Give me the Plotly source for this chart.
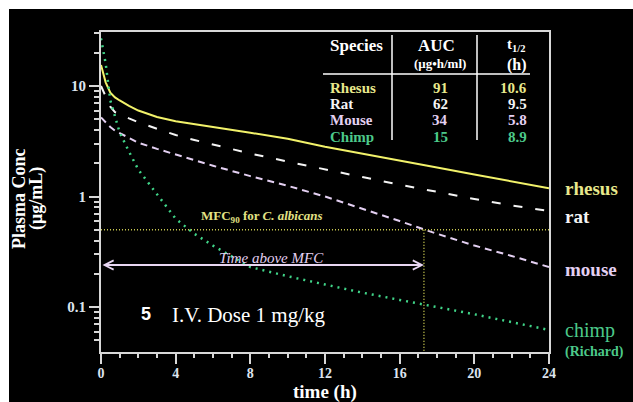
import math
import plotly.graph_objects as go

# ---------------- data ----------------
time_h = [0, 0.25, 0.5, 0.75, 1, 1.5, 2, 3, 4, 5, 6, 8, 10, 12, 14, 16, 18, 20, 22, 24]
rhesus = [15.5, 10.8, 8.7, 7.9, 7.4, 6.6, 6.0, 5.25, 4.8, 4.5, 4.25, 3.78, 3.33, 2.82, 2.45, 2.12, 1.83, 1.58, 1.37, 1.19]
rat = [10.0, 8.0, 6.5, 5.8, 5.6, 5.1, 4.7, 4.1, 3.6, 3.25, 2.95, 2.45, 2.07, 1.75, 1.5, 1.28, 1.1, 0.95, 0.83, 0.74]
mouse = [5.2, 4.7, 4.25, 3.95, 3.75, 3.35, 3.07, 2.7, 2.4, 2.13, 1.9, 1.53, 1.25, 1.0, 0.78, 0.6, 0.46, 0.36, 0.29, 0.23]
chimp = [27, 16, 7.4, 5.2, 3.8, 2.55, 1.75, 1.05, 0.63, 0.46, 0.36, 0.23, 0.19, 0.16, 0.135, 0.116, 0.1, 0.086, 0.073, 0.062]

mfc_value = 0.5
time_above_mfc = 17.3
arrow_level = 0.24

table_species = ["Rhesus", "Rat", "Mouse", "Chimp"]
table_auc = ["91", "62", "34", "15"]
table_thalf = ["10.6", "9.5", "5.8", "8.9"]

x_tickvals = [0, 4, 8, 12, 16, 20, 24]
y_tickvals = [0.1, 1, 10]
y_ticktext = ["0.1", "1", "10"]
y_minor = [0.05, 0.06, 0.07, 0.08, 0.09, 0.2, 0.3, 0.4, 0.5, 0.6, 0.7, 0.8, 0.9,
           2, 3, 4, 5, 6, 7, 8, 9, 20, 30]

# ---------------- style ----------------
C_RHESUS_LINE = "#f2f26a"
C_RHESUS_TXT = "#e8e88c"
C_RAT = "#f4f4f4"
C_MOUSE = "#e4d0f2"
C_CHIMP = "#40d488"
C_CHIMP_TXT = "#4cc98a"
C_MFC = "#c8c850"
C_AXIS = "#d8d8d8"
SERIF = "Liberation Serif"

fig = go.Figure()

fig.add_trace(go.Scatter(x=time_h, y=rhesus, mode="lines",
                         line=dict(color=C_RHESUS_LINE, width=2)))
fig.add_trace(go.Scatter(x=time_h, y=rat, mode="lines",
                         line=dict(color=C_RAT, width=2, dash="9px,13px")))
fig.add_trace(go.Scatter(x=time_h, y=mouse, mode="lines",
                         line=dict(color=C_MOUSE, width=2, dash="7px,5px")))
fig.add_trace(go.Scatter(x=time_h, y=chimp, mode="lines",
                         line=dict(color=C_CHIMP, width=2.5, dash="2px,5px")))

# MFC reference lines
fig.add_trace(go.Scatter(x=[0, 24], y=[mfc_value, mfc_value], mode="lines",
                         line=dict(color=C_MFC, width=1.5, dash="1px,2px")))
fig.add_trace(go.Scatter(x=[time_above_mfc, time_above_mfc], y=[mfc_value, 0.01], mode="lines",
                         line=dict(color=C_MFC, width=1.5, dash="1px,2px")))

W, H = 633, 402
ML, MR, MT, MB = 101, 84, 32, 50
PW, PH = W - ML - MR, H - MT - MB


def px(xp):
    return (xp - ML) / PW


def py(yp):
    return (H - MB - yp) / PH


ann = []


def text(xp, yp, s, size, color, xanchor="center", family=SERIF, bold=False, angle=0):
    ann.append(dict(x=px(xp), y=py(yp), xref="paper", yref="paper", text=s,
                    showarrow=False, xanchor=xanchor, yanchor="middle", textangle=angle,
                    font=dict(family=family, size=size, color=color,
                              weight="bold" if bold else "normal")))


# table
text(328, 45, "Species", 17, "white", xanchor="left", bold=True)
text(436, 45, "AUC", 17, "white", bold=True)
text(440, 64, "(μg•h/ml)", 13, "white", bold=True)
text(516, 45, "t<sub>1/2</sub>", 15, "white", bold=True)
text(517, 65, "(h)", 16, "white", bold=True)
row_colors = [C_RHESUS_TXT, C_RAT, C_MOUSE, C_CHIMP_TXT]
row_y = [88, 104, 120, 137]
for name, auc, th, col, yy in zip(table_species, table_auc, table_thalf, row_colors, row_y):
    text(328, yy, name, 15, col, xanchor="left", bold=True)
    text(440, yy, auc, 15, col, bold=True)
    text(529, yy, th, 15, col, xanchor="right", bold=True)

# right-side labels
text(563, 188, "rhesus", 19, C_RHESUS_TXT, xanchor="left", bold=True)
text(563, 216, "rat", 19, C_RAT, xanchor="left", bold=True)
text(563, 269, "mouse", 19, C_MOUSE, xanchor="left", bold=True)
text(563, 330, "chimp", 20, C_CHIMP_TXT, xanchor="left")
text(563, 352, "(Richard)", 14, C_CHIMP_TXT, xanchor="left", bold=True)

# in-plot texts
text(262, 216, "MFC<sub>90</sub> for <i>C. albicans</i>", 13, "#e2e284", bold=True)
text(271, 258, "<i>Time above MFC</i>", 15, C_MOUSE)
text(146, 314, "5", 18, "white", family="Liberation Sans", bold=True)
text(170, 315, "I.V. Dose 1 mg/kg", 21, "white", xanchor="left")

# axis titles
text(19, 199, "Plasma Conc", 18, "white", bold=True, angle=-90)
text(36, 199, "(μg/mL)", 18, "white", bold=True, angle=-90)
text(325, 392, "time (h)", 19, "white", bold=True)

# double-headed arrow for time above MFC
ann.append(dict(x=time_above_mfc, y=math.log10(arrow_level), ax=0, ay=math.log10(arrow_level),
                xref="x", yref="y", axref="x", ayref="y", text="", showarrow=True,
                arrowside="end+start", arrowhead=5, startarrowhead=5,
                arrowsize=0.9, startarrowsize=0.9, arrowwidth=2, arrowcolor="#e8d6f2",
                standoff=0, startstandoff=0))

shapes = [
    # table rules
    dict(type="line", xref="paper", yref="paper", x0=px(392), x1=px(392), y0=py(35), y1=py(140),
         line=dict(color="white", width=1.5)),
    dict(type="line", xref="paper", yref="paper", x0=px(477), x1=px(477), y0=py(35), y1=py(140),
         line=dict(color="white", width=1.5)),
    dict(type="line", xref="paper", yref="paper", x0=px(323), x1=px(530), y0=py(74), y1=py(74),
         line=dict(color="white", width=1.5)),
    # white margins of the screenshot
    dict(type="rect", xref="paper", yref="paper", x0=px(0), x1=px(W), y0=py(0), y1=py(9),
         fillcolor="white", line=dict(width=0), layer="above"),
    dict(type="rect", xref="paper", yref="paper", x0=px(0), x1=px(9), y0=py(H), y1=py(0),
         fillcolor="white", line=dict(width=0), layer="above"),
]

fig.update_layout(
    width=W, height=H, autosize=False,
    margin=dict(l=ML, r=MR, t=MT, b=MB, pad=0),
    paper_bgcolor="black", plot_bgcolor="black",
    showlegend=False,
    annotations=ann, shapes=shapes,
)

fig.update_xaxes(range=[0, 24], showgrid=False, zeroline=False,
                 showline=True, linecolor=C_AXIS, linewidth=2, mirror=True,
                 tickmode="array", tickvals=x_tickvals,
                 ticks="outside", ticklen=10, tickwidth=2, tickcolor=C_AXIS,
                 ticklabelstandoff=-3,
                 tickfont=dict(family=SERIF, size=14, color="#dde4ee", weight="bold"),
                 minor=dict(dtick=1, ticks="outside", ticklen=4, tickwidth=1.5, tickcolor=C_AXIS))

fig.update_yaxes(type="log", range=[-1.407, 1.489], showgrid=False, zeroline=False,
                 showline=True, linecolor=C_AXIS, linewidth=2, mirror=True,
                 tickmode="array", tickvals=y_tickvals, ticktext=y_ticktext,
                 ticks="outside", ticklen=10, tickwidth=2, tickcolor=C_AXIS,
                 tickfont=dict(family=SERIF, size=15, color="#dde4ee", weight="bold"),
                 minor=dict(tickmode="array", tickvals=y_minor, ticks="outside",
                            ticklen=5, tickwidth=1.5, tickcolor=C_AXIS))

fig.write_html("out.html")
